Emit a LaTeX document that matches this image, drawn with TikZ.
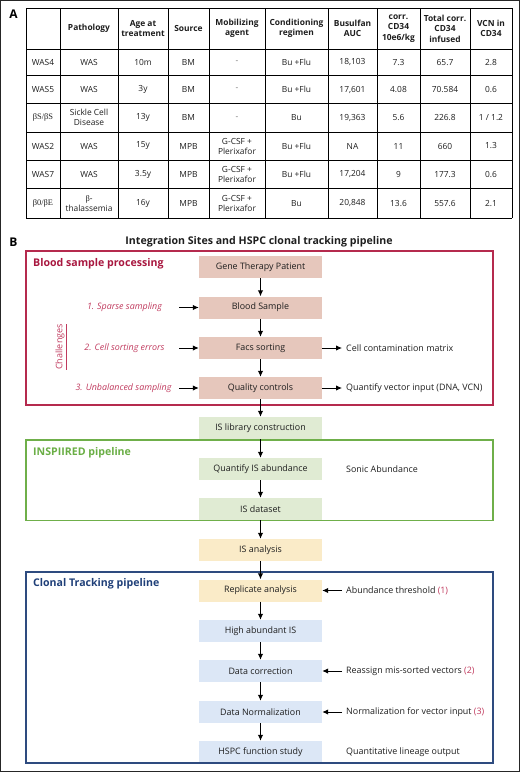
\documentclass[tikz,border=0pt]{standalone}
\usepackage{fontspec}
\setmainfont{Open Sans}
\newfontfamily\grk{Liberation Serif}
\usetikzlibrary{arrows.meta}
\definecolor{pinkfill}{HTML}{E6C7BC}
\definecolor{greenfill}{HTML}{E0EBD3}
\definecolor{yellowfill}{HTML}{FAEBC8}
\definecolor{bluefill}{HTML}{DCE7F6}
\definecolor{redframe}{HTML}{B52A4E}
\definecolor{redtitle}{HTML}{A8173F}
\definecolor{redtext}{HTML}{C03A5E}
\definecolor{greenframe}{HTML}{6FAF4A}
\definecolor{greentitle}{HTML}{6AAE45}
\definecolor{blueframe}{HTML}{2E4B7F}
\definecolor{bluetitle}{HTML}{1F3F78}
\definecolor{txt}{HTML}{1E1E1E}
\definecolor{dashgray}{HTML}{777777}
\begin{document}
\begin{tikzpicture}[x=1pt,y=-1pt,
  tc/.style={align=center,inner sep=0pt,font=\fontsize{8.4}{10}\selectfont,text=txt},
  th/.style={align=center,inner sep=0pt,font=\bfseries\fontsize{8.4}{10.4}\selectfont,text=txt},
  flow/.style={minimum width=123pt,minimum height=22pt,inner sep=0pt,font=\fontsize{8.9}{11}\selectfont,text=txt},
  side/.style={anchor=west,inner xsep=4pt,inner ysep=0pt,font=\fontsize{8.9}{11}\selectfont,text=txt},
  chal/.style={inner sep=0pt,font=\itshape\fontsize{8.9}{11}\selectfont,text=redtext},
  sectitle/.style={anchor=west,inner sep=0pt,font=\bfseries\fontsize{10.6}{13}\selectfont},
  arr/.style={-{Latex[length=6pt,width=5.5pt]},line width=1pt,black},
  frame/.style={line width=1.1pt}
]
\useasboundingbox (0,0) rectangle (520,772);
\draw[line width=1.4pt,black!85] (0.7,0.7) rectangle (519.3,771.3);

% ---------- Panel A ----------
\node[inner sep=0pt,font=\bfseries\fontsize{12}{14}\selectfont] (labA) at (13.5,14) {A};
\def\colx{{43,89,143,188.5,237,296.5,352.5,398.5,445,491}}
\foreach \x in {26,60,118,168,209,265,328,377,420,470,512}
  \draw[line width=0.8pt] (\x,8) -- (\x,218);
\foreach \y in {8,49,75.5,103.5,132,160,188.5,218}
  \draw[line width=0.8pt] (26,\y) -- (512,\y);

\foreach \t [count=\c] in {{},Pathology,Age at\\treatment,Source,Mobilizing\\agent,Conditioning\\regimen,Busulfan\\AUC,corr.\\CD34\\10e6/kg,Total corr.\\CD34\\infused,VCN in\\CD34}
  {\pgfmathsetmacro\xx{\colx[\c-1]}\node[th] (h\c) at (\xx,28.5) {\t};}
\foreach \t [count=\c] in {WAS4,WAS,10m,BM,\textcolor{dashgray}{-},Bu +Flu,{18,103},7.3,65.7,2.8}
  {\pgfmathsetmacro\xx{\colx[\c-1]}\node[tc] (ra\c) at (\xx,62.3) {\t};}
\foreach \t [count=\c] in {WAS5,WAS,3y,BM,\textcolor{dashgray}{-},Bu +Flu,{17,601},4.08,70.584,0.6}
  {\pgfmathsetmacro\xx{\colx[\c-1]}\node[tc] (rb\c) at (\xx,89.5) {\t};}
\foreach \t [count=\c] in {{\grk βS/βS},Sickle Cell\\Disease,13y,BM,\textcolor{dashgray}{-},Bu,{19,363},5.6,226.8,1 / 1.2}
  {\pgfmathsetmacro\xx{\colx[\c-1]}\node[tc] (rc\c) at (\xx,117.8) {\t};}
\foreach \t [count=\c] in {WAS2,WAS,15y,MPB,G-CSF +\\Plerixafor,Bu +Flu,NA,11,660,1.3}
  {\pgfmathsetmacro\xx{\colx[\c-1]}\node[tc] (rd\c) at (\xx,146) {\t};}
\foreach \t [count=\c] in {WAS7,WAS,3.5y,MPB,G-CSF +\\Plerixafor,Bu +Flu,{17,204},9,177.3,0.6}
  {\pgfmathsetmacro\xx{\colx[\c-1]}\node[tc] (re\c) at (\xx,174.3) {\t};}
\foreach \t [count=\c] in {{\grk β0/βE},{\grk β}-\\thalassemia,16y,MPB,G-CSF +\\Plerixafor,Bu,{20,848},13.6,557.6,2.1}
  {\pgfmathsetmacro\xx{\colx[\c-1]}\node[tc] (rf\c) at (\xx,203.3) {\t};}

% ---------- Panel B ----------
\node[inner sep=0pt,font=\bfseries\fontsize{12}{14}\selectfont] (labB) at (13.5,242) {B};
\node[inner sep=0pt,font=\bfseries\fontsize{10.6}{13}\selectfont,text=txt] (title) at (259,242) {Integration Sites and HSPC clonal tracking pipeline};

% boxes
\node[flow,fill=pinkfill] (gtp) at (260.5,267) {Gene Therapy Patient};
\node[flow,fill=pinkfill] (bs) at (260.5,307.5) {Blood Sample};
\node[flow,fill=pinkfill] (fs) at (260.5,348) {Facs sorting};
\node[flow,fill=pinkfill] (qc) at (260.5,388) {Quality controls};
\node[flow,fill=greenfill] (isl) at (260.5,428) {IS library construction};
\node[flow,fill=greenfill] (qis) at (260.5,469) {Quantify IS abundance};
\node[flow,fill=greenfill] (isd) at (260.5,509) {IS dataset};
\node[flow,fill=yellowfill] (isa) at (260.5,550) {IS analysis};
\node[flow,fill=yellowfill] (ra) at (260.5,590.5) {Replicate analysis};
\node[flow,fill=bluefill] (hai) at (260.5,631) {High abundant IS};
\node[flow,fill=bluefill] (dc) at (260.5,671) {Data correction};
\node[flow,fill=bluefill] (dn) at (260.5,712) {Data Normalization};
\node[flow,fill=bluefill] (hf) at (260.5,752) {HSPC function study};

% frames
\draw[frame,redframe] (26,251) rectangle (493,405);
\draw[frame,greenframe] (26,440) rectangle (493,520.5);
\draw[frame,blueframe] (26,572) rectangle (493,763);

\node[sectitle,text=redtitle] (t1) at (33,264) {Blood sample processing};
\node[sectitle,text=greentitle] (t2) at (33,452.5) {INSPIIRED pipeline};
\node[sectitle,text=bluetitle] (t3) at (33,584) {Clonal Tracking pipeline};

% challenges
\node[chal] (c1) at (124.5,307.5) {1. Sparse sampling};
\node[chal] (c2) at (124.5,348) {2. Cell sorting errors};
\node[chal] (c3) at (123.5,388) {3. Unbalanced sampling};
\coordinate (c1e) at (179,307.5);
\coordinate (c2e) at (179,348);
\coordinate (c3e) at (179,388);
\node[rotate=90,inner sep=0pt,font=\fontsize{9}{11}\selectfont,text=redtext] (chl) at (61,347) {\underline{Challenges}};

% side labels
\node[side] (cm) at (342,348) {Cell contamination matrix};
\node[side] (qv) at (342,388) {Quantify vector input (DNA, VCN)};
\node[side] (sa) at (342,469) {Sonic Abundance};
\node[side] (at) at (342,590.5) {Abundance threshold \textcolor{redtext}{(1)}};
\node[side] (rm) at (342,671) {Reassign mis-sorted vectors \textcolor{redtext}{(2)}};
\node[side] (nv) at (342,712) {Normalization for vector input \textcolor{redtext}{(3)}};
\node[side] (ql) at (342,752) {Quantitative lineage output};

% arrows
\foreach \a/\b in {gtp/bs,bs/fs,fs/qc,qc/isl,isl/qis,qis/isd,isd/isa,isa/ra,ra/hai,hai/dc,dc/dn,dn/hf}
  \draw[arr] (\a.south) -- (\b.north);
\draw[arr] (c1e) -- (bs.west);
\draw[arr] (c2e) -- (fs.west);
\draw[arr] (c3e) -- (qc.west);
\draw[arr] (fs.east) -- (cm.west);
\draw[arr] (qc.east) -- (qv.west);
\draw[arr] (at.west) -- (ra.east);
\draw[arr] (rm.west) -- (dc.east);
\draw[arr] (nv.west) -- (dn.east);
\end{tikzpicture}
\end{document}
